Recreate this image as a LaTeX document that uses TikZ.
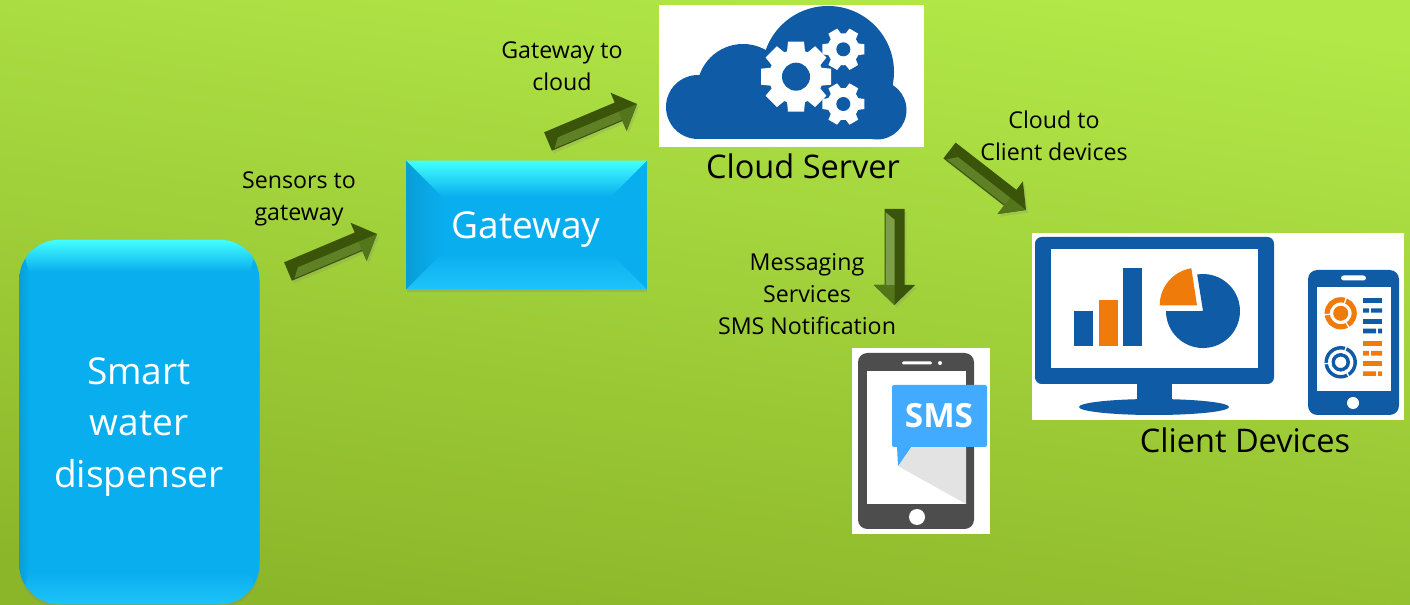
\documentclass[tikz,border=0pt]{standalone}
\usepackage{fontspec}
\setmainfont{Open Sans}
\usetikzlibrary{calc,shadows}

\definecolor{bgtop}{RGB}{178,232,72}
\definecolor{bgbottom}{RGB}{140,182,42}
\definecolor{boxblue}{RGB}{9,174,238}
\definecolor{boxtop}{RGB}{68,255,255}
\definecolor{boxleft}{RGB}{8,158,215}
\definecolor{boxbottom}{RGB}{30,195,250}
\definecolor{arrowdark}{RGB}{58,84,10}
\definecolor{arrowhead}{RGB}{84,118,26}
\definecolor{arrowlit}{RGB}{96,128,38}
\definecolor{arrowbright}{RGB}{124,158,70}
\definecolor{iconblue}{RGB}{15,91,165}
\definecolor{iconorange}{RGB}{239,123,10}
\definecolor{phonegrey}{RGB}{77,77,77}
\definecolor{foldgrey}{RGB}{227,227,227}
\definecolor{bubbleblue}{RGB}{66,171,255}

\tikzset{
  bluebox/.style={fill=boxblue,inner sep=0pt,drop shadow={opacity=.25,shadow xshift=0pt,shadow yshift=-2.5pt}},
  boxtext/.style={text=white,align=center,font=\fontsize{27.8}{38.4}\selectfont},
  iconback/.style={fill=white,inner sep=0pt,anchor=north west},
  flowlabel/.style={align=center,font=\fontsize{17.4}{24}\selectfont},
  bigcaption/.style={font=\fontsize{24.4}{28}\selectfont}
}

% bevelled faces of a box: node, side depth, top depth, corner radius
\newcommand{\bevelfaces}[4]{%
  \begin{scope}
    \clip[rounded corners=#4] (#1.north west) rectangle (#1.south east);
    \shade[left color=boxleft,right color=boxblue] (#1.north west) -- ($(#1.north west)+(#2,#3)$) -- ($(#1.south west)+(#2,-#3)$) -- (#1.south west) -- cycle;
    \shade[top color=boxblue,bottom color=boxbottom] (#1.south west) -- ($(#1.south west)+(#2,-#3)$) -- ($(#1.south east)+(-#2,-#3)$) -- (#1.south east) -- cycle;
    \shade[top color=boxtop,bottom color=boxblue] (#1.north west) -- ($(#1.north west)+(#2,#3)$) -- ($(#1.north east)+(-#2,#3)$) -- (#1.north east) -- cycle;
  \end{scope}
}

% block arrow from tail to tip, with the colour of its lit face
\newcommand{\bevelarrow}[3]{%
  \coordinate (nk) at ($(#2)!15pt!(#1)$);
  \fill[arrowdark,drop shadow={opacity=.2,shadow xshift=1.5pt,shadow yshift=-2pt}] ($(#1)!7.5pt!90:(#2)$) -- ($(nk)!7.5pt!90:(#2)$) -- ($(nk)!15.5pt!90:(#2)$) -- (#2) -- ($(nk)!15.5pt!-90:(#2)$) -- ($(nk)!7.5pt!-90:(#2)$) -- ($(#1)!7.5pt!-90:(#2)$) -- cycle;
  \fill[arrowhead] (nk) -- ($(nk)!15.5pt!90:(#2)$) -- (#2) -- cycle;
  \fill[#3] ($(#1)!8pt!(#2)$) -- ($($(#1)!2.5pt!(#2)$)!6.6pt!90:(#2)$) -- ($(nk)!6.6pt!90:(#2)$) -- (nk) -- cycle;
}

% gear: centre, outer radius, body radius, hole radius, teeth, tooth half width
\newcommand{\gearicon}[6]{%
  \fill[white] (#1) circle[radius=#3];
  \foreach \tooth in {1,...,#5}
    \fill[white,shift={(#1)},rotate=\tooth*360/#5] (#3-2,-#6-1) -- (#2,-#6) -- (#2,#6) -- (#3-2,#6+1) -- cycle;
  \fill[iconblue] (#1) circle[radius=#4];
}

\begin{document}
\begin{tikzpicture}[x=0.75pt,y=0.75pt,yscale=-1,xscale=1]
\useasboundingbox (0,0) rectangle (1410,605);

%Shape: Background
\shade[top color=bgtop,bottom color=bgbottom,shading angle=-8] (0,0) rectangle (1410,605);

%Shape: Rounded Rectangle
\node[bluebox,rounded corners=30pt,minimum width=180pt,minimum height=273pt] (dispenser) at (139.5,422) {};
\bevelfaces{dispenser}{10}{32}{30pt}
%Shape: Rectangle
\node[bluebox,minimum width=180pt,minimum height=96pt] (gateway) at (526.5,225) {};
\bevelfaces{gateway}{36}{36}{0pt}

%Image backs
\node[iconback,minimum width=198.75pt,minimum height=106.5pt] (cloudimg) at (659,5) {};
\node[iconback,minimum width=279pt,minimum height=140.25pt] (clientimg) at (1032,233) {};
\node[iconback,minimum width=103.5pt,minimum height=139.5pt] (smsimg) at (852,348) {};

%Cloud
\fill[iconblue] (698,107) circle[radius=32];
\fill[iconblue] (743,90) circle[radius=46];
\fill[iconblue] (828,72) circle[radius=66];
\fill[iconblue] (877,110) circle[radius=29.5];
\fill[iconblue] (697,95) rectangle (877,139.5);
\gearicon{796,76.7}{35}{27}{14}{8}{8}
\gearicon{843.3,49.3}{21}{16}{7}{6}{5}
\gearicon{843.3,104}{21}{16}{7}{6}{5}

%Monitor
\fill[iconblue,rounded corners=5pt] (1035,237) rectangle (1274,384);
\fill[white] (1051,249) rectangle (1258,368);
\fill[iconblue] (1137,380) rectangle (1172,402);
\fill[iconblue] (1154,407) ellipse[x radius=75,y radius=8];
\fill[iconblue] (1074,311) rectangle (1093,346);
\fill[iconorange] (1099,300) rectangle (1118,346);
\fill[iconblue] (1123,268) rectangle (1142,346);
\fill[iconblue] (1203,311) -- (1197.2,274.5) arc[start angle=-99,end angle=180,radius=37] -- cycle;
\fill[iconorange] (1197,305.3) -- (1159.7,305.3) arc[start angle=180,end angle=261,radius=37.5] -- cycle;

%Tablet
\fill[iconblue,rounded corners=7pt] (1308,270) rectangle (1399,415);
\fill[white] (1317,287) rectangle (1391,391);
\fill[white,rounded corners=2pt] (1341,275.5) rectangle (1366,280.5);
\fill[white] (1353,403) circle[radius=6];
\draw[iconorange,line width=3.9pt] (1340.7,313.3) circle[radius=13.5];
\fill[iconorange] (1340.7,313.3) circle[radius=7.5];
\draw[iconblue,line width=2.6pt] (1340.7,362.3) circle[radius=14.5];
\draw[iconblue,line width=2.6pt] (1340.7,362.3) circle[radius=7.5];
\foreach \ringy in {313.3,362.3}{
  \draw[white,line width=1pt] (1340.7,\ringy) ++(60:9) -- ++(60:11);
  \draw[white,line width=1pt] (1340.7,\ringy) ++(-70:9) -- ++(-70:11);
  \draw[white,line width=1pt] (1340.7,\ringy) ++(175:9) -- ++(175:11);
}
\foreach \rowy/\rowcol in {298/iconblue,319/iconblue,341/iconorange,361.5/iconorange}
  \fill[\rowcol] (1363,\rowy) rectangle (1382,\rowy+4.7);
\fill[iconblue] (1363,308.3) rectangle (1369,312.7) (1371,308.3) rectangle (1382,312.7);
\fill[iconblue] (1363,328.7) rectangle (1376,333.3) (1378,328.7) rectangle (1382,333.3);
\fill[iconorange] (1363,351) rectangle (1369,355.7) (1371,351) rectangle (1382,355.7);
\fill[iconorange] (1363,371.3) rectangle (1376,376) (1378,371.3) rectangle (1382,376);

%Phone
\fill[phonegrey,rounded corners=7pt] (858,353) rectangle (974,529);
\fill[white] (867,371) rectangle (966,504);
\fill[white,rounded corners=1pt] (902,361.5) rectangle (932,364.5);
\fill[white] (940,363) circle[radius=2];
\fill[white] (917,517) circle[radius=8];
\fill[foldgrey] (912,447) -- (966,447) -- (966,504) -- (898,466) -- cycle;
\fill[bubbleblue,rounded corners=1.5pt] (892,385) rectangle (987,447);
\fill[bubbleblue] (897,446) -- (898,466) -- (912,446) -- cycle;

%Arrow ends
\coordinate (sensortail) at (288,271.5);
\coordinate (sensortip) at (377,234);
\coordinate (cloudtail) at (548,141.5);
\coordinate (cloudtip) at (637,104);
\coordinate (clienttail) at (949.5,150.5);
\coordinate (clienttip) at (1026,210);
\coordinate (smstail) at (894.5,209);
\coordinate (smstip) at (894.5,305);
\bevelarrow{sensortail}{sensortip}{arrowlit}
\bevelarrow{cloudtail}{cloudtip}{arrowlit}
\bevelarrow{clienttail}{clienttip}{arrowlit}
\bevelarrow{smstail}{smstip}{arrowbright}

% Text Node
\node[boxtext] (dispensertext) at (139,427) {Smart\\water\\dispenser};
% Text Node
\node[boxtext] (gatewaytext) at (526,230) {Gateway};
% Text Node
\node[flowlabel] (sensorlabel) at (299,199) {Sensors to\\gateway};
% Text Node
\node[flowlabel] (cloudlabel) at (562,66) {Gateway to\\cloud};
% Text Node
\node[flowlabel] (clientlabel) at (1054,136) {Cloud to\\Client devices};
% Text Node
\node[flowlabel] (smslabel) at (807,294) {Messaging\\Services\\SMS Notification};
% Text Node
\node[bigcaption] (cloudcaption) at (803,166) {Cloud Server};
% Text Node
\node[bigcaption] (clientcaption) at (1245,440) {Client Devices};
% Text Node
\node[font=\bfseries\fontsize{25}{25}\selectfont,text=white] (smstext) at (939,416) {SMS};

\end{tikzpicture}
\end{document}
